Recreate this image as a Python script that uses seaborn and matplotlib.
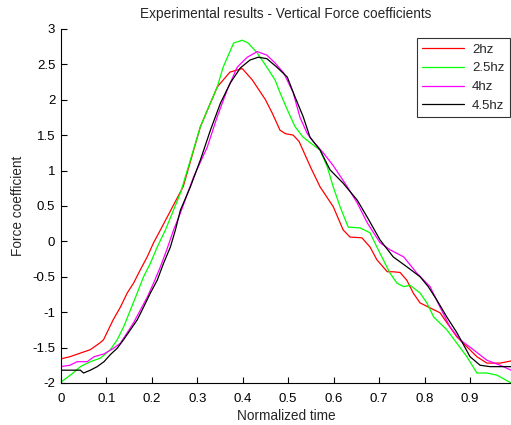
import numpy as np
import pandas as pd
import matplotlib
matplotlib.use("Agg")
import matplotlib.pyplot as plt
import seaborn as sns

labels = ["2hz", "2.5hz", "4hz", "4.5hz"]
colors = ["#ff0000", "#00ff00", "#ff00ff", "#000000"]

x_2hz = [0.0, 0.02, 0.065, 0.087, 0.094, 0.115, 0.131, 0.146, 0.16, 0.175, 0.19, 0.204, 0.219,
         0.269, 0.307, 0.344, 0.372, 0.399, 0.421, 0.45, 0.465, 0.482, 0.494, 0.511, 0.524,
         0.549, 0.570, 0.599, 0.621, 0.636, 0.662, 0.680, 0.695, 0.718, 0.731, 0.746, 0.761,
         0.775, 0.79, 0.812, 0.834, 0.849, 0.871, 0.893, 0.915, 0.937, 0.966, 0.99]
y_2hz = [-1.66, -1.63, -1.53, -1.43, -1.39, -1.11, -0.93, -0.73, -0.59, -0.40, -0.22, -0.02, 0.16,
         0.77, 1.62, 2.18, 2.39, 2.44, 2.28, 2.0, 1.81, 1.57, 1.52, 1.50, 1.41,
         1.05, 0.77, 0.49, 0.16, 0.06, 0.05, -0.08, -0.26, -0.43, -0.43, -0.44, -0.55,
         -0.73, -0.87, -0.94, -1.01, -1.15, -1.35, -1.49, -1.63, -1.72, -1.72, -1.69]

x_25hz = [0.0, 0.027, 0.043, 0.065, 0.087, 0.109, 0.124, 0.138, 0.153, 0.168, 0.182, 0.197, 0.212,
          0.230, 0.263, 0.307, 0.344, 0.357, 0.380, 0.399, 0.412, 0.432, 0.453, 0.471, 0.482,
          0.498, 0.515, 0.533, 0.555, 0.570, 0.586, 0.599, 0.614, 0.632, 0.658, 0.680, 0.695,
          0.709, 0.724, 0.739, 0.754, 0.768, 0.790, 0.805, 0.82, 0.849, 0.871, 0.893, 0.915,
          0.937, 0.959, 0.99]
y_25hz = [-1.99, -1.86, -1.77, -1.70, -1.65, -1.53, -1.39, -1.21, -0.97, -0.73, -0.50, -0.31, -0.08,
          0.16, 0.68, 1.62, 2.18, 2.46, 2.80, 2.84, 2.80, 2.66, 2.46, 2.28, 2.10,
          1.86, 1.62, 1.47, 1.36, 1.29, 1.05, 0.77, 0.49, 0.20, 0.19, 0.12, -0.08,
          -0.26, -0.45, -0.59, -0.64, -0.62, -0.73, -0.87, -1.07, -1.25, -1.44, -1.63, -1.86,
          -1.86, -1.89, -2.0]

x_4hz = [0.0, 0.02, 0.036, 0.058, 0.073, 0.095, 0.116, 0.131, 0.146, 0.160, 0.175, 0.19, 0.204,
         0.219, 0.233, 0.248, 0.263, 0.292, 0.322, 0.344, 0.366, 0.388, 0.41, 0.432, 0.453,
         0.471, 0.490, 0.511, 0.526, 0.542, 0.555, 0.577, 0.599, 0.630, 0.652, 0.674, 0.702,
         0.724, 0.754, 0.783, 0.812, 0.834, 0.856, 0.878, 0.907, 0.937, 0.966, 0.99]
y_4hz = [-1.77, -1.75, -1.70, -1.70, -1.63, -1.59, -1.51, -1.44, -1.29, -1.15, -0.97, -0.79, -0.59,
         -0.36, -0.12, 0.16, 0.40, 0.91, 1.33, 1.76, 2.14, 2.46, 2.60, 2.68, 2.63,
         2.52, 2.38, 2.10, 1.75, 1.52, 1.41, 1.25, 1.07, 0.77, 0.54, 0.26, -0.02,
         -0.12, -0.22, -0.45, -0.64, -0.93, -1.21, -1.39, -1.53, -1.68, -1.75, -1.82]

x_45hz = [0.0, 0.02, 0.043, 0.05, 0.065, 0.08, 0.095, 0.109, 0.124, 0.138, 0.153, 0.168, 0.182,
          0.197, 0.212, 0.226, 0.241, 0.252, 0.263, 0.285, 0.307, 0.329, 0.351, 0.373, 0.395,
          0.416, 0.434, 0.453, 0.475, 0.498, 0.515, 0.533, 0.548, 0.570, 0.592, 0.621, 0.652,
          0.674, 0.702, 0.731, 0.761, 0.790, 0.808, 0.827, 0.849, 0.871, 0.90, 0.922, 0.944,
          0.966, 0.99]
y_45hz = [-1.82, -1.82, -1.82, -1.86, -1.82, -1.77, -1.70, -1.60, -1.51, -1.39, -1.25, -1.11, -0.93,
          -0.73, -0.55, -0.31, -0.08, 0.16, 0.44, 0.77, 1.15, 1.57, 1.95, 2.24, 2.45,
          2.56, 2.60, 2.58, 2.46, 2.32, 2.04, 1.76, 1.47, 1.29, 1.01, 0.82, 0.58,
          0.34, 0.02, -0.22, -0.36, -0.50, -0.64, -0.83, -1.07, -1.29, -1.63, -1.75, -1.77,
          -1.77, -1.77]

xs = [x_2hz, x_25hz, x_4hz, x_45hz]
ys = [y_2hz, y_25hz, y_4hz, y_45hz]
frames = []
for lab, x, y in zip(labels, xs, ys):
    frames.append(pd.DataFrame({"t": x, "f": y, "series": lab}))
df = pd.concat(frames, ignore_index=True)

sns.set_style("white")
plt.rcParams["font.family"] = ["Liberation Sans", "DejaVu Sans"]
plt.rcParams["font.size"] = 9

fig = plt.figure(figsize=(5.11, 4.25), dpi=100)
ax = fig.add_axes([0.119, 0.099, 0.881, 0.833])
sns.lineplot(data=df, x="t", y="f", hue="series", hue_order=labels,
             palette=dict(zip(labels, colors)), linewidth=0.9, ax=ax,
             sort=False, estimator=None)

ax.set_xlim(0, 0.99)
ax.set_ylim(-2, 3)
ax.set_xticks(np.arange(0, 1.0, 0.1))
ax.set_xticklabels(["0", "0.1", "0.2", "0.3", "0.4", "0.5", "0.6", "0.7", "0.8", "0.9"])
ax.set_yticks(np.arange(-2, 3.01, 0.5))
ax.set_yticklabels(["-2", "-1.5", "-1", "-0.5", "0", "0.5", "1", "1.5", "2", "2.5", "3"])
ax.tick_params(direction="in", length=4, width=0.8, colors="black", labelsize=9.5,
               bottom=True, left=True)
ax.tick_params(axis="x", pad=7)
ax.tick_params(axis="y", pad=4)
for s in ["top", "right"]:
    ax.spines[s].set_visible(False)
for s in ["left", "bottom"]:
    ax.spines[s].set_color("black")
    ax.spines[s].set_linewidth(0.8)

ax.set_xlabel("Normalized time", fontsize=9.8, labelpad=3)
ax.set_ylabel("Force coefficient", fontsize=9.8, labelpad=5)
ax.set_title("Experimental results - Vertical Force coefficients", fontsize=9.8, pad=8)

leg = ax.legend(loc="upper right", bbox_to_anchor=(1.0, 0.978), borderaxespad=0.1,
                frameon=True, fancybox=False, edgecolor="black", fontsize=9.5,
                handlelength=3.2, borderpad=0.4, labelspacing=0.5, handletextpad=0.6,
                title=None)
leg.get_frame().set_linewidth(0.8)

fig.savefig("out.png", dpi=100, facecolor="white")
